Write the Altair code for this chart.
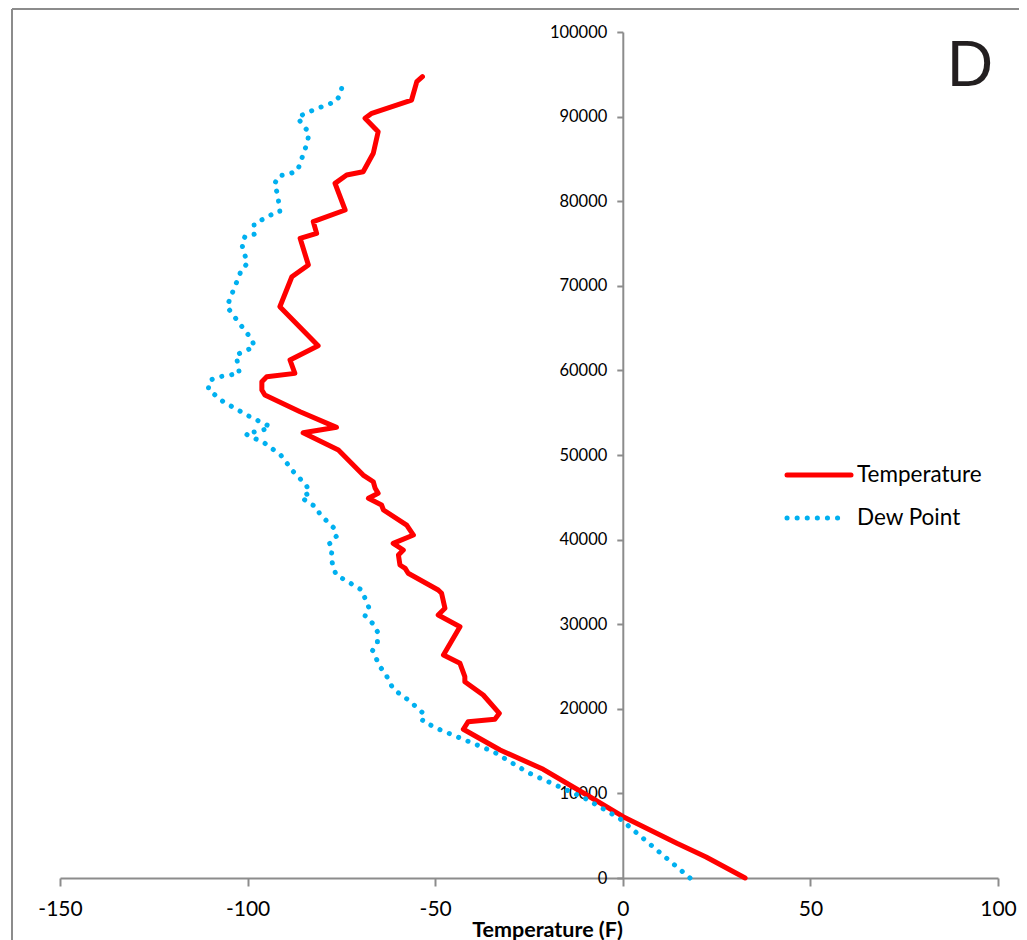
import altair as alt
import pandas as pd

# Temperature profile (altitude ft, temperature F)
temp_alt = [0, 2480, 4100, 7250, 9810, 12850, 15130, 17580, 18480, 18760, 19470,
            21630, 23200, 23800, 25380, 26360, 29700, 31090, 31880, 33650, 34040,
            36020, 36600, 37000, 38180, 38770, 39560, 40540, 41720, 43500, 44090,
            44880, 45470, 46060, 46840, 47630, 50590, 52630, 53270, 55120, 57090,
            57680, 58660, 59250, 59650, 61230, 62920, 67530, 71070, 72460, 75610,
            76200, 77580, 78960, 82110, 83100, 83480, 85660, 88210, 89800, 90390,
            91960, 94130, 94720]
temp_f = [32.6, 22.2, 14.4, 0.1, -9.6, -21.2, -32.7, -42.5, -41.2, -34.1, -32.9,
          -37.2, -42.1, -42.1, -43.4, -47.8, -43.4, -49.2, -47.4, -48.3, -49.2,
          -57.2, -58.0, -59.4, -59.8, -58.5, -61.2, -55.8, -57.6, -63.8, -64.3,
          -67.8, -65.2, -66.0, -66.5, -69.2, -75.8, -85.2, -76.3, -86.0, -95.4,
          -96.2, -96.2, -94.9, -87.4, -88.7, -81.2, -91.4, -88.2, -83.8, -86.0,
          -81.6, -82.5, -74.0, -76.7, -73.6, -69.2, -66.5, -65.2, -68.7, -66.9,
          -56.3, -54.9, -53.4]

# Dew point profile (altitude ft, dew point F)
dew_alt = [0, 7060, 9420, 12450, 14930, 17690, 18590, 19270, 20960, 22340, 24000,
           24970, 26870, 27930, 29110, 30110, 30970, 31880, 33060, 34040, 35220,
           35810, 36800, 37980, 38890, 39630, 40420, 41330, 42990, 43890, 44480,
           45070, 45540, 46450, 48030, 50000, 51380, 52480, 53150, 53430, 54530,
           56300, 57760, 58860, 59250, 59650, 60720, 61820, 62290, 62800, 63680,
           65570, 67530, 69700, 70890, 71950, 72660, 73840, 75020, 75810, 76120,
           77300, 78370, 78760, 80850, 82000, 83010, 83210, 83600, 86910, 88090,
           89000, 89910, 90460, 91370, 91760, 92670, 93930]
dew_f = [17.9, -0.9, -10.1, -25.2, -34.5, -49.6, -53.4, -52.7, -56.9, -61.2, -63.1,
         -64.7, -66.7, -65.4, -65.4, -66.7, -68.7, -67.6, -68.7, -69.6, -74.0,
         -76.4, -77.2, -77.8, -77.4, -78.2, -76.3, -76.9, -80.7, -81.8, -84.3,
         -85.6, -83.4, -84.4, -87.8, -91.2, -95.4, -100.5, -94.2, -94.3, -99.4,
         -106.5, -110.5, -110.0, -107.5, -102.2, -102.6, -103.1, -100.7, -98.2, -98.9,
         -102.2, -105.5, -103.6, -102.5, -101.6, -100.0, -100.9, -101.6, -100.7, -98.0,
         -98.3, -93.8, -91.4, -92.0, -92.9, -91.6, -89.0, -86.7, -84.1, -83.6,
         -85.3, -86.7, -84.2, -79.1, -76.5, -75.2, -74.7]

x_ticks = [-150, -100, -50, 0, 50, 100]
y_ticks = list(range(0, 100001, 10000))
series_names = ["Temperature", "Dew Point"]
series_colors = ["#FF0000", "#00B0F0"]

temp_df = pd.DataFrame({"alt": temp_alt, "val": temp_f, "i": range(len(temp_f))})
dew_df = pd.DataFrame({"alt": dew_alt, "val": dew_f, "i": range(len(dew_f))})

FONT = "Lato"
AX = "#8C8C8C"

xscale = alt.Scale(domain=[-150, 100], nice=False, zero=False)
yscale = alt.Scale(domain=[0, 100000], nice=False, zero=False)

x_axis = alt.Axis(values=x_ticks, grid=False, domainColor=AX, domainWidth=2,
                  tickColor=AX, tickWidth=2, tickSize=8, labelFont=FONT,
                  labelFontSize=21, labelColor="#000000", labelPadding=12,
                  labelFlush=False, labelExpr="datum.value + ''",
                  title="Temperature (F)", titleFont=FONT, titleFontSize=21.5,
                  titleFontWeight="bold", titleColor="#000000", titleX=487,
                  titleY=58, titleAlign="center", titleBaseline="alphabetic")
y_axis = alt.Axis(values=y_ticks, format="d", grid=False, offset=-562.8,
                  domainColor=AX, domainWidth=2, tickColor=AX, tickWidth=2,
                  tickSize=6, labelFont=FONT, labelFontSize=16.5,
                  labelColor="#000000", labelPadding=10, labelFlush=False,
                  title=None)

temp_line = alt.Chart(temp_df).mark_line(
    color=series_colors[0], strokeWidth=5, strokeCap="round", strokeJoin="round"
).encode(
    x=alt.X("val:Q", scale=xscale, axis=x_axis),
    y=alt.Y("alt:Q", scale=yscale, axis=y_axis),
    order="i:Q",
)

dew_line = alt.Chart(dew_df).mark_line(
    color=series_colors[1], strokeWidth=5, strokeCap="round", strokeJoin="round",
    strokeDash=[0.1, 10]
).encode(
    x=alt.X("val:Q", scale=xscale, axis=x_axis),
    y=alt.Y("alt:Q", scale=yscale, axis=y_axis),
    order="i:Q",
)

one = alt.Data(values=[{"a": 1}])

# legend (decoration)
leg_temp = alt.Chart(one).mark_rule(color=series_colors[0], strokeWidth=5, strokeCap="round").encode(
    x=alt.value(727), x2=alt.value(791), y=alt.value(443))
leg_dew = alt.Chart(one).mark_rule(color=series_colors[1], strokeWidth=5, strokeCap="round",
                                   strokeDash=[0.1, 10]).encode(
    x=alt.value(727), x2=alt.value(782), y=alt.value(486))
leg_t_text = alt.Chart(one).mark_text(text=series_names[0], font=FONT, fontSize=22.5,
                                      align="left", baseline="middle", color="#000000").encode(
    x=alt.value(797), y=alt.value(443))
leg_d_text = alt.Chart(one).mark_text(text=series_names[1], font=FONT, fontSize=22.5,
                                      align="left", baseline="middle", color="#000000").encode(
    x=alt.value(797), y=alt.value(486))
panel_label = alt.Chart(one).mark_text(text="D", font="Liberation Sans", fontSize=64,
                                       align="center", baseline="middle", color="#231F20").encode(
    x=alt.value(910), y=alt.value(35))

# outer frame (left and top edges visible)
frame_top = alt.Chart(one).mark_rule(color="#8C8C8C", strokeWidth=2).encode(
    x=alt.value(-48), x2=alt.value(990), y=alt.value(-23))
frame_left = alt.Chart(one).mark_rule(color="#8C8C8C", strokeWidth=2).encode(
    x=alt.value(-48), y=alt.value(-23), y2=alt.value(920))

chart = alt.layer(
    temp_line, dew_line, frame_top, frame_left, leg_temp, leg_dew,
    leg_t_text, leg_d_text, panel_label
).properties(
    width=938, height=846,
    padding={"left": 52, "top": 24, "right": 21, "bottom": 62},
    autosize=alt.AutoSizeParams(type="none"),
    background="white",
).configure_view(stroke=None)

chart.save("out.html", embed_options={"renderer": "svg", "actions": False})
